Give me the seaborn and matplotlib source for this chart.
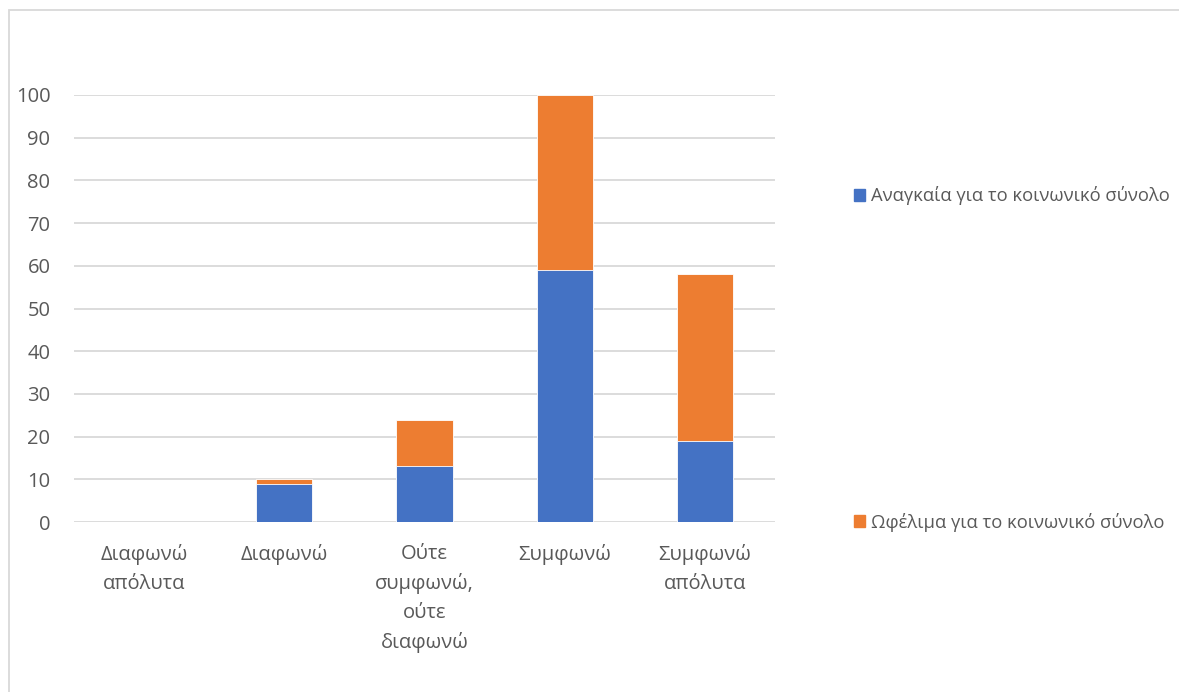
import matplotlib
matplotlib.use("Agg")
import matplotlib.pyplot as plt
import matplotlib.patches as mpatches
import seaborn as sns
import pandas as pd

categories = ["Διαφωνώ\nαπόλυτα", "Διαφωνώ", "Ούτε\nσυμφωνώ,\nούτε\nδιαφωνώ", "Συμφωνώ", "Συμφωνώ\nαπόλυτα"]
necessary = [0, 9, 13, 59, 19]
beneficial = [0, 1, 11, 41, 39]
series_names = ["Αναγκαία για το κοινωνικό σύνολο", "Ωφέλιμα για το κοινωνικό σύνολο"]
y_ticks = [0, 10, 20, 30, 40, 50, 60, 70, 80, 90, 100]

BLUE = "#4472C4"
ORANGE = "#ED7D31"
TEXT = "#595959"
GRID = "#D9D9D9"

sns.set_style("white")
plt.rcParams["font.family"] = ["Open Sans", "DejaVu Sans"]

df = pd.DataFrame({"cat": categories, "necessary": necessary, "beneficial": beneficial})
df["total"] = df["necessary"] + df["beneficial"]

fig = plt.figure(figsize=(11.79, 6.92), dpi=100)
ax = fig.add_axes([74 / 1179, 1 - 522 / 692, (775 - 74) / 1179, (522 - 95) / 692])

# stacked bars: full height in orange, lower part in blue on top
sns.barplot(data=df, x="cat", y="total", color=ORANGE, width=0.4, saturation=1,
            edgecolor="white", linewidth=0.6, ax=ax, zorder=3)
sns.barplot(data=df, x="cat", y="necessary", color=BLUE, width=0.4, saturation=1,
            edgecolor="white", linewidth=0.6, ax=ax, zorder=4)

ax.set_ylim(0, 100)
ax.set_xlim(-0.5, len(categories) - 0.5)
ax.set_yticks(y_ticks)
ax.yaxis.grid(True, color=GRID, linewidth=1.3, zorder=0)
ax.set_axisbelow(True)
for s in ax.spines.values():
    s.set_visible(False)
ax.set_xlabel("")
ax.set_ylabel("")
ax.tick_params(axis="both", length=0, colors=TEXT, labelsize=14.5)
ax.tick_params(axis="y", pad=17)
ax.tick_params(axis="x", pad=16)
for lbl in ax.get_xticklabels():
    lbl.set_linespacing(1.57)
    lbl.set_verticalalignment("top")

handles = [mpatches.Patch(color=BLUE, label=series_names[0]),
           mpatches.Patch(color=ORANGE, label=series_names[1])]
leg = fig.legend(handles=handles, loc="center left", bbox_to_anchor=(854 / 1179, 1 - 359 / 692),
                 frameon=False, fontsize=13.2, labelcolor=TEXT, handlelength=0.6, handleheight=0.6,
                 handletextpad=0.35, labelspacing=16.75, borderpad=0, borderaxespad=0)

# outer chart-area border
fig.patches.append(mpatches.Rectangle((9 / 1179, -0.1), 1.2, 1 - 10 / 692 + 0.1,
                                      transform=fig.transFigure, fill=False,
                                      edgecolor=GRID, linewidth=1.3))

fig.savefig("out.png", dpi=100, facecolor="white")
